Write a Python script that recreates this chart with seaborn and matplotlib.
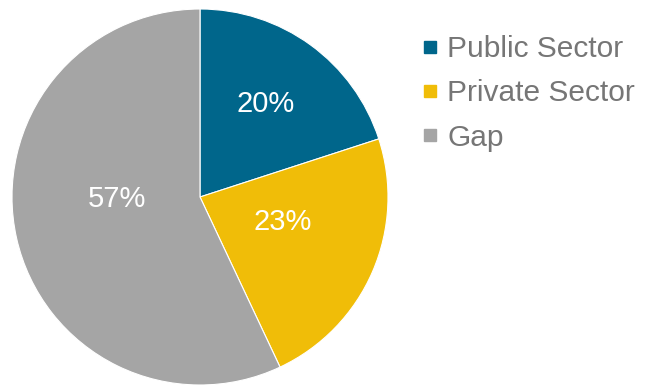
import matplotlib
matplotlib.use("Agg")
import matplotlib.pyplot as plt
import seaborn as sns
import numpy as np
from matplotlib.lines import Line2D

categories = ["Public Sector", "Private Sector", "Gap"]
shares = [20, 23, 57]
pct_labels = ["20%", "23%", "57%"]
colors = ["#00668B", "#F0BD08", "#A5A5A5"]

# label placement (fraction of radius, angle in degrees) as in the original
label_r = [0.607, 0.46, 0.444]
label_ang = [55.0, -16.8, -178.6]

sns.set_theme(style="white")
plt.rcParams["font.family"] = ["Liberation Sans", "DejaVu Sans"]

fig = plt.figure(figsize=(6.45, 3.86), dpi=100)
ax = fig.add_axes([12 / 645, 1 / 386, 376 / 645, 376 / 386])

wedges, _ = ax.pie(shares, colors=colors, startangle=90, counterclock=False,
                   radius=1.0, wedgeprops=dict(edgecolor="white", linewidth=0.8))
ax.set_xlim(-1, 1)
ax.set_ylim(-1, 1)
ax.set_aspect("equal")

for lab, r, a in zip(pct_labels, label_r, label_ang):
    t = np.deg2rad(a)
    ax.text(r * np.cos(t), r * np.sin(t), lab, ha="center", va="center",
            color="white", fontsize=21)

handles = [Line2D([0], [0], marker="s", linestyle="none", markersize=8.5,
                  markerfacecolor=c, markeredgecolor=c) for c in colors]
leg = fig.legend(handles, categories, loc="upper left",
                 bbox_to_anchor=(423 / 645, 1 - 35 / 386), frameon=False,
                 fontsize=21.5, handlelength=0.48, handletextpad=0.33,
                 labelspacing=0.55, borderpad=0, borderaxespad=0)
for t in leg.get_texts():
    t.set_color("#767676")

fig.savefig("out.png", dpi=100)
